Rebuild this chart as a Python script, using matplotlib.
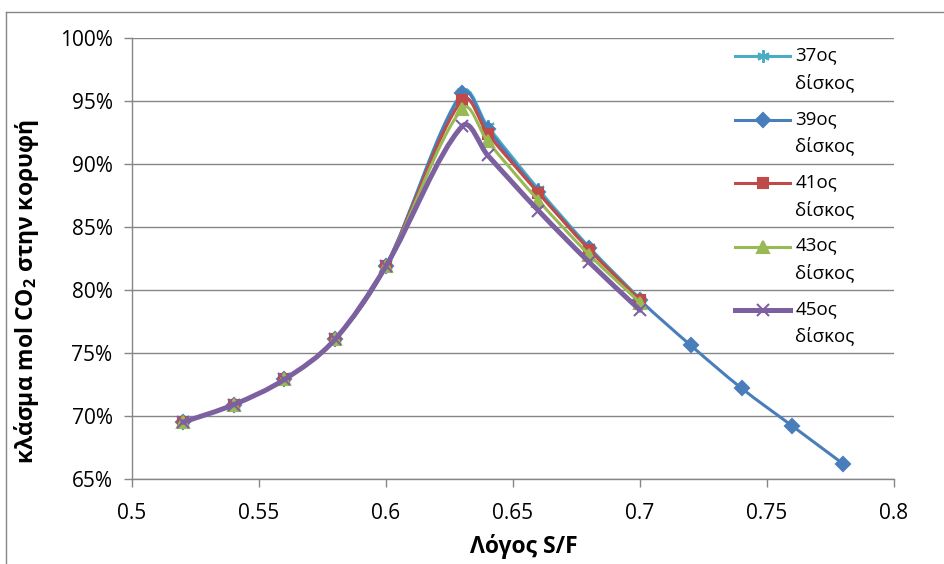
import matplotlib.pyplot as plt
from matplotlib.path import Path
from matplotlib.patches import PathPatch
from matplotlib.lines import Line2D
from matplotlib.legend_handler import HandlerLine2D
from matplotlib.ticker import FuncFormatter
import numpy as np

plt.rcParams['font.family'] = ['Open Sans', 'DejaVu Sans']
plt.rcParams['mathtext.fontset'] = 'custom'
plt.rcParams['mathtext.rm'] = 'Open Sans'
plt.rcParams['mathtext.bf'] = 'Open Sans:bold'

# S/F ratio values
x_common = [0.52, 0.54, 0.56, 0.58, 0.60, 0.63, 0.64, 0.66, 0.68, 0.70]
x_39 = x_common + [0.72, 0.74, 0.76, 0.78]

# top CO2 mole fraction (%) per tray
y_37 = [69.5, 70.9, 72.9, 76.1, 81.9, 95.7, 93.0, 88.0, 83.4, 79.3]
y_39 = [69.5, 70.9, 72.9, 76.1, 81.9, 95.6, 92.8, 87.8, 83.3, 79.2, 75.6, 72.2, 69.2, 66.2]
y_41 = [69.5, 70.9, 72.9, 76.1, 81.9, 95.1, 92.4, 87.7, 83.2, 79.2]
y_43 = [69.5, 70.9, 72.9, 76.1, 81.9, 94.4, 91.8, 87.1, 82.8, 79.0]
y_45 = [69.5, 70.9, 72.9, 76.1, 81.9, 93.0, 90.7, 86.3, 82.2, 78.4]

labels = ['37ος\nδίσκος', '39ος\nδίσκος', '41ος\nδίσκος', '43ος\nδίσκος', '45ος\nδίσκος']

x_ticks = [0.5, 0.55, 0.6, 0.65, 0.7, 0.75, 0.8]
y_ticks = [65, 70, 75, 80, 85, 90, 95, 100]


# smooth line (Excel style) as a bezier path through the data points
def smooth_path(xs, ys):
    xs = np.asarray(xs, float)
    ys = np.asarray(ys, float)
    n = len(xs)
    m = np.zeros(n)
    for i in range(n):
        a, b = max(i - 1, 0), min(i + 1, n - 1)
        m[i] = (ys[b] - ys[a]) / (xs[b] - xs[a])
    verts = [(xs[0], ys[0])]
    codes = [Path.MOVETO]
    for i in range(n - 1):
        h = xs[i + 1] - xs[i]
        verts += [(xs[i] + h / 3, ys[i] + m[i] * h / 3),
                  (xs[i + 1] - h / 3, ys[i + 1] - m[i + 1] * h / 3),
                  (xs[i + 1], ys[i + 1])]
        codes += [Path.CURVE4] * 3
    return Path(verts, codes)


# legend handle aligned with the first line of a two-line label
class TopHandler(HandlerLine2D):
    def create_artists(self, legend, orig_handle, xdescent, ydescent,
                       width, height, fontsize, trans):
        arts = super().create_artists(legend, orig_handle, xdescent, ydescent,
                                      width, height, fontsize, trans)
        for a in arts:
            a.set_ydata(np.asarray(a.get_ydata(), float) + 9.5)
        return arts


fig = plt.figure(figsize=(9.44, 5.64), dpi=100)
ax = fig.add_axes([132 / 944, 1 - 479 / 564, 762 / 944, 441 / 564])

series = [
    (x_common, y_37, '#4BACC6', (6, 2, 0), 9, 2.2),
    (x_39, y_39, '#4A7EBB', 'D', 7, 2.2),
    (x_common, y_41, '#BE4B48', 's', 7.5, 2.2),
    (x_common, y_43, '#98B954', '^', 8, 2.2),
    (x_common, y_45, '#7D60A0', 'x', 8, 3.6),
]

handles = []
for i, (xs, ys, col, mk, ms, lw) in enumerate(series):
    patch = PathPatch(smooth_path(xs, ys), facecolor='none', edgecolor=col,
                      lw=lw, zorder=3 + i, capstyle='round', joinstyle='round')
    ax.add_patch(patch)
    ax.plot(xs, ys, linestyle='none', marker=mk, ms=ms, color=col,
            mec=col, mew=1.5, zorder=3 + i)
    handles.append(Line2D([], [], color=col, lw=lw, marker=mk, ms=ms,
                          mec=col, mew=1.5))

ax.set_xlim(0.5, 0.8)
ax.set_ylim(65, 100)
ax.set_xticks(x_ticks)
ax.set_yticks(y_ticks)
ax.xaxis.set_major_formatter(FuncFormatter(lambda v, p: f'{v:g}'))
ax.yaxis.set_major_formatter(FuncFormatter(lambda v, p: f'{v:.0f}%'))
ax.tick_params(axis='both', labelsize=15, colors='#868686', labelcolor='black',
               direction='out', length=6, width=1)
ax.tick_params(axis='y', pad=8)
ax.tick_params(axis='x', pad=11)

ax.grid(axis='y', color='#868686', lw=1)
ax.set_axisbelow(True)
for s in ['top', 'right']:
    ax.spines[s].set_visible(False)
for s in ['left', 'bottom']:
    ax.spines[s].set_color('#868686')
    ax.spines[s].set_linewidth(1)

ax.set_xlabel('Λόγος S/F', fontsize=16.5, fontweight='bold')
ax.set_ylabel('κλάσμα mol CO$_\\mathbf{2}$ στην κορυφή', fontsize=16.5,
              fontweight='bold')
ax.xaxis.set_label_coords(0.514, -0.125)
ax.yaxis.set_label_coords(-0.119, 0.425)

leg = ax.legend(handles, labels, loc='upper left', bbox_to_anchor=(0.782, 0.998),
                frameon=False, fontsize=13.5, handlelength=2.9, handletextpad=0.3,
                labelspacing=0.95, borderaxespad=0,
                handler_map={Line2D: TopHandler()})
for t in leg.get_texts():
    t.set_linespacing(1.6)

# outer chart border
fig.add_artist(Line2D([6 / 944, 6 / 944], [0, 1 - 12 / 564], color='#868686', lw=1))
fig.add_artist(Line2D([6 / 944, 1], [1 - 12 / 564, 1 - 12 / 564], color='#868686', lw=1))

fig.savefig('out.png', dpi=100)
